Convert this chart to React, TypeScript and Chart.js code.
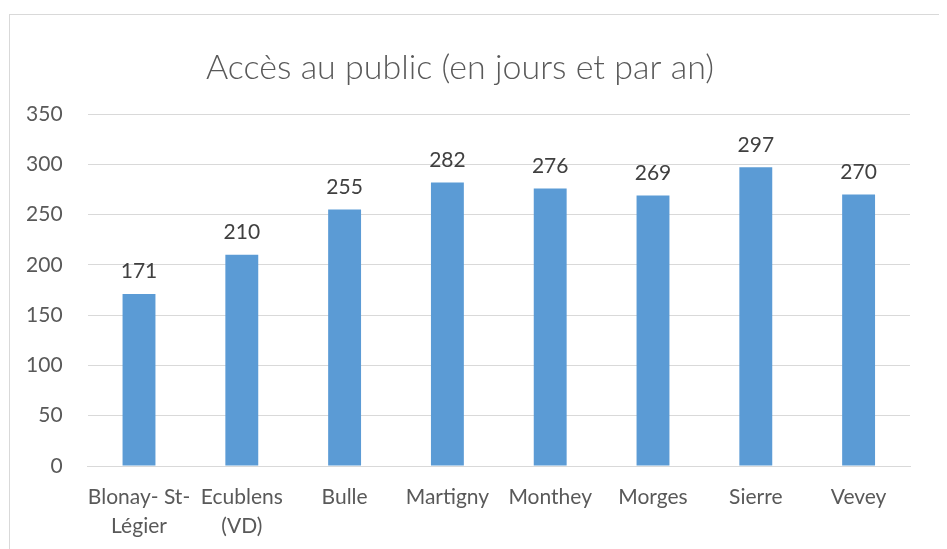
import React, { useEffect, useRef } from "react";
import { Chart, registerables } from "chart.js";

Chart.register(...registerables);

const categories: (string | string[])[] = [
  ["Blonay- St-", "Légier"],
  ["Ecublens", "(VD)"],
  "Bulle",
  "Martigny",
  "Monthey",
  "Morges",
  "Sierre",
  "Vevey",
];
const values: number[] = [171, 210, 255, 282, 276, 269, 297, 270];
const titleText = "Accès au public (en jours et par an)";
const yMin = 0;
const yMax = 350;
const yStep = 50;

const FONT = "Lato, 'Open Sans', sans-serif";

const labelPlugin = {
  id: "valueLabels",
  afterDatasetsDraw(chart: any) {
    const ctx = chart.ctx;
    const meta = chart.getDatasetMeta(0);
    ctx.save();
    ctx.font = `21px ${FONT}`;
    ctx.fillStyle = "#404040";
    ctx.textAlign = "center";
    ctx.textBaseline = "bottom";
    meta.data.forEach((el: any, i: number) => {
      ctx.fillText(String(values[i]), el.x, el.y - 12);
    });
    ctx.restore();
  },
};

export default function App() {
  const ref = useRef<HTMLCanvasElement>(null);
  useEffect(() => {
    if (!ref.current) return;
    const chart = new Chart(ref.current, {
      type: "bar",
      data: {
        labels: categories,
        datasets: [
          {
            data: values,
            backgroundColor: "#5B9BD5",
            borderWidth: 0,
            barPercentage: 0.32,
            categoryPercentage: 1,
          },
        ],
      },
      options: {
        animation: false,
        responsive: false,
        maintainAspectRatio: false,
        layout: { padding: { left: 0, right: 37, top: 0, bottom: 0 } },
        plugins: {
          legend: { display: false },
          tooltip: { enabled: false },
          title: {
            display: true,
            text: titleText,
            color: "#595959",
            font: { family: FONT, size: 34, weight: "300", lineHeight: 1.2 },
            padding: { top: 32.6, bottom: 25.6 },
          },
        },
        scales: {
          x: {
            grid: { display: false, drawTicks: false },
            border: { display: true, color: "#d9d9d9", width: 1 },
            ticks: {
              color: "#595959",
              font: { family: FONT, size: 21, lineHeight: 1.38 },
              maxRotation: 0,
              autoSkip: false,
              padding: 17,
            },
            afterFit(scale: any) {
              scale.height = 83;
            },
          },
          y: {
            min: yMin,
            max: yMax,
            grid: { color: "#d9d9d9", lineWidth: 1, drawTicks: false },
            border: { display: false },
            ticks: {
              stepSize: yStep,
              color: "#595959",
              font: { family: FONT, size: 21 },
              padding: 25,
            },
            afterFit(scale: any) {
              scale.width = 77.6;
            },
          },
        },
      },
      plugins: [labelPlugin],
    });
    return () => chart.destroy();
  }, []);
  return (
    <div
      style={{
        marginTop: 6,
        marginLeft: 1,
        width: 960,
        height: 560,
        border: "1px solid #d9d9d9",
        boxSizing: "border-box",
      }}
    >
      <canvas ref={ref} width={937} height={534} style={{ display: "block" }} />
    </div>
  );
}
